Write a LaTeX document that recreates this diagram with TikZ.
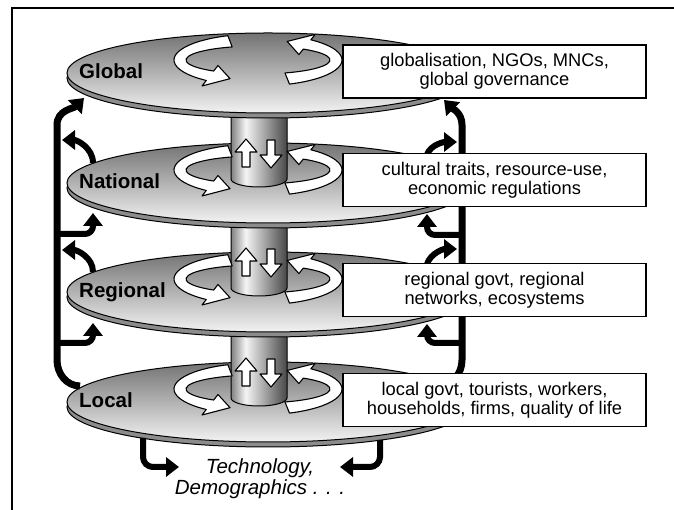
\documentclass[tikz,border=0pt]{standalone}
\usepackage{fontspec}
\setmainfont{Liberation Sans}
\usetikzlibrary{arrows.meta}

\pgfdeclarehorizontalshading{column}{100bp}{color(0bp)=(black!50); color(25bp)=(black!50);
  color(38bp)=(black!4); color(52bp)=(black!30); color(75bp)=(black!72); color(100bp)=(black!72)}

% curved block arrows turning round the centre of a disk
\newcommand{\turnarrows}[1]{%
  \begin{scope}[shift={(258,#1)}]
    \filldraw[turn] (111:84 and 26) arc[start angle=111, end angle=232, x radius=84, y radius=26]
      -- (232:91 and 33) -- (249:78 and 20) -- (232:65 and 7)
      -- (232:72 and 14) arc[start angle=232, end angle=111, x radius=72, y radius=14] -- cycle;
    \filldraw[turn] (-68:84 and 26) arc[start angle=-68, end angle=51, x radius=84, y radius=26]
      -- (51:91 and 33) -- (68:78 and 20) -- (51:65 and 7)
      -- (51:72 and 14) arc[start angle=51, end angle=-68, x radius=72, y radius=14] -- cycle;
  \end{scope}}

\newcommand{\leveldisk}[1]{%
  \filldraw[fill=black!45, line width=1pt] (268,#1-5) ellipse[x radius=201, y radius=40];
  \shadedraw[top color=black!55, bottom color=black!5, line width=1pt] (268,#1) ellipse[x radius=201, y radius=40];}

\begin{document}
\begin{tikzpicture}[x=1pt, y=1pt,
    turn/.style={fill=white, draw=black, line width=1.1pt, line join=round},
    feed/.style={line width=6pt, -{Triangle[length=13pt,width=19pt]}},
    level/.style={font=\bfseries\fontsize{20.5}{24}\selectfont, anchor=base west, inner sep=0pt},
    infobox/.style={draw, line width=1.8pt, fill=white, minimum width=303pt, minimum height=53pt,
      align=center, inner sep=2pt, font=\fontsize{18.3}{18.6}\selectfont}]

    \useasboundingbox (0,0) rectangle (674,510);

    % frame
    \draw[line width=1.5pt] (12,0) -- (12,502);
    \draw[line width=2.5pt] (11.25,502) -- (674,502);

    % disks, columns and turning arrows from local up to national
    \foreach \y in {108,218,327} {
        \leveldisk{\y}
        \shadedraw[shading=column, line width=1pt]
            (231,\y+109) -- (231,\y+4) arc[start angle=180, end angle=360, x radius=28, y radius=8]
            -- (287,\y+109);
        \turnarrows{\y+13}
        \filldraw[turn] (242,\y+16) -- (242,\y+31) -- (235,\y+31) -- (246,\y+44)
            -- (257,\y+31) -- (250,\y+31) -- (250,\y+16) -- cycle;
        \filldraw[turn] (267,\y+43) -- (267,\y+28) -- (260,\y+28) -- (271,\y+15)
            -- (282,\y+28) -- (275,\y+28) -- (275,\y+43) -- cycle;
    }

    % global disk
    \leveldisk{437}
    \turnarrows{450}

    \node[level] (glob) at (79,431) {Global};
    \node[level] (nat) at (79,321) {National};
    \node[level] (reg) at (79,212) {Regional};
    \node[level] (loc) at (79,102) {Local};

    % feedback, left side
    \coordinate (lstart) at (80,124);
    \coordinate (ltip) at (84,412);
    \draw[feed, line width=7pt] (lstart) to[out=180,in=-90] (57,150) -- (57,385) to[out=90,in=-135] (ltip);
    \draw[feed] (93,347) to[out=90,in=0] (62,370);
    \draw[feed, rounded corners=8pt] (57,276) -| (93,297);
    \draw[feed] (93,238) to[out=90,in=0] (62,260);
    \draw[feed, rounded corners=8pt] (57,167) -| (93,187);

    % feedback, right side
    \coordinate (rstart) at (440,125);
    \coordinate (rtip) at (444,410);
    \draw[feed, line width=7pt] (rstart) to[out=0,in=-90] (462,150) -- (462,385) to[out=90,in=-45] (rtip);
    \draw[feed] (426,350) to[out=90,in=180] (457,368);
    \draw[feed, rounded corners=8pt] (462,275) -| (427,296);
    \draw[feed] (426,240) to[out=90,in=180] (457,261);
    \draw[feed, rounded corners=8pt] (462,167) -| (427,186);

    % drivers below
    \draw[feed, rounded corners=10pt] (143,72) |- (179,43);
    \draw[feed, rounded corners=10pt] (380,70) |- (340,43);

    \node[infobox] (gbox) at (494.5,438.5) {globalisation, NGOs, MNCs,\\global governance};
    \node[infobox] (nbox) at (494.5,330) {cultural traits, resource-use,\\economic regulations};
    \node[infobox] (rbox) at (494.5,220) {regional govt, regional\\networks, ecosystems};
    \node[infobox] (lbox) at (494.5,110) {local govt, tourists, workers,\\households, firms, quality of life};

    \node[font=\itshape\fontsize{20.5}{21}\selectfont, align=center] (drivers) at (260,31.5)
        {Technology,\\Demographics . . .};

\end{tikzpicture}
\end{document}
